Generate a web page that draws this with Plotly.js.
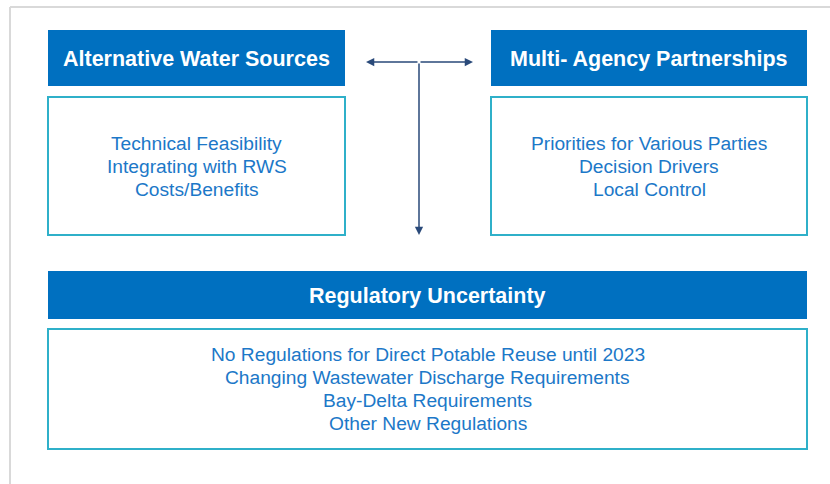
<!DOCTYPE html>
<html><head><meta charset="utf-8">
<script src="https://cdn.plot.ly/plotly-3.0.1.min.js"></script>
<style>html,body{margin:0;padding:0;background:#fff;}#chart{width:830px;height:484px;}</style>
</head><body><div id="chart"></div>
<script>
const headers = ["Alternative Water Sources", "Multi- Agency Partnerships", "Regulatory Uncertainty"];
const leftItems = ["Technical Feasibility", "Integrating with RWS", "Costs/Benefits"];
const rightItems = ["Priorities for Various Parties", "Decision Drivers", "Local Control"];
const bottomItems = ["No Regulations for Direct Potable Reuse until 2023", "Changing Wastewater Discharge Requirements", "Bay-Delta Requirements", "Other New Regulations"];

// layout geometry (pixel-like coordinates on a 830x484 canvas)
const hdr = [[48,345,30,86],[491,807,30,86],[48,807,271,319]];
const box = [[48,345,97,235],[491,807,97,235],[48,807,329,449]];
const lists = [leftItems, rightItems, bottomItems];
const LINE_GAP = 23;

const HEAD = '#0070c0', BORDER = '#2fb0c9', TXT = '#1c78c8', ARROW = '#2a4a7a';
const FONT = 'Liberation Sans, Arial, sans-serif';

const shapes = [];
const annotations = [];
// outer frame
shapes.push({type:'line', x0:10, x1:830, y0:7, y1:7, line:{color:'#d9d9d9', width:2}});
shapes.push({type:'line', x0:10, x1:10, y0:7, y1:484, line:{color:'#d9d9d9', width:2}});

hdr.forEach((h,i)=>{
  shapes.push({type:'rect', x0:h[0], x1:h[1], y0:h[2], y1:h[3], fillcolor:HEAD, line:{width:0}, layer:'below'});
  annotations.push({x:(h[0]+h[1])/2, y:(h[2]+h[3])/2 + 1.2, text:'<b>'+headers[i]+'</b>', showarrow:false,
    font:{family:FONT, size:21.5, color:'#ffffff'}, xanchor:'center', yanchor:'middle'});
});
box.forEach((b,i)=>{
  shapes.push({type:'rect', x0:b[0], x1:b[1], y0:b[2], y1:b[3], fillcolor:'rgba(0,0,0,0)', line:{color:BORDER, width:2}});
  const items = lists[i];
  const cy = (b[2]+b[3])/2;
  items.forEach((t,k)=>{
    annotations.push({x:(b[0]+b[1])/2, y:cy + (k-(items.length-1)/2)*LINE_GAP, text:t, showarrow:false,
      font:{family:FONT, size:19.2, color:TXT}, xanchor:'center', yanchor:'middle', align:'center'});
  });
});

// arrows
const arrowDefs = [[419,62,366,62],[419,62,473,62],[419,62,419,235]];
arrowDefs.forEach(a=>{
  annotations.push({x:a[2], y:a[3], ax:a[0], ay:a[1], axref:'x', ayref:'y', xref:'x', yref:'y',
    showarrow:true, arrowhead:2, arrowsize:1.1, arrowwidth:1.5, arrowcolor:ARROW, text:''});
});

Plotly.newPlot('chart', [{x:[0,830], y:[0,484], mode:'markers', marker:{opacity:0}, hoverinfo:'skip', showlegend:false}], {
  width:830, height:484, margin:{l:0,r:0,t:0,b:0},
  paper_bgcolor:'#ffffff', plot_bgcolor:'#ffffff',
  xaxis:{range:[0,830], visible:false, fixedrange:true},
  yaxis:{range:[484,0], visible:false, fixedrange:true},
  shapes:shapes, annotations:annotations, showlegend:false
}, {staticPlot:true});
</script></body></html>
